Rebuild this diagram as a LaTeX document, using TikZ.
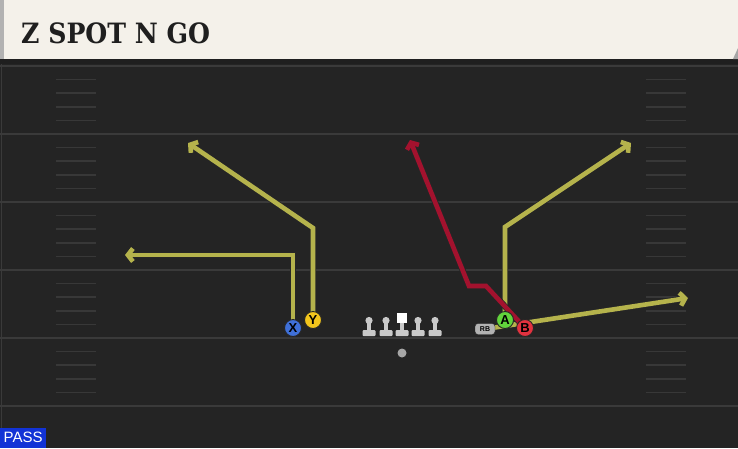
\documentclass[tikz,border=0pt]{standalone}
\usepackage{fontspec}
\usetikzlibrary{arrows.meta,positioning,calc}
\newfontfamily\headfont{DejaVu Serif Condensed}
\newfontfamily\labfont{Liberation Sans}
\definecolor{headcream}{HTML}{F4F1EA}
\definecolor{fieldgray}{HTML}{242424}
\definecolor{yardline}{HTML}{3A3A3A}
\definecolor{hashline}{HTML}{383838}
\definecolor{routeyellow}{HTML}{B5B34C}
\definecolor{routered}{HTML}{A3122E}
\definecolor{xblue}{HTML}{3F70D8}
\definecolor{yyellow}{HTML}{F2C51C}
\definecolor{agreen}{HTML}{62D43C}
\definecolor{bred}{HTML}{E2323F}
\definecolor{linegray}{HTML}{C9C9C9}
\definecolor{passblue}{HTML}{1233D6}
\pgfdeclarelayer{field}
\pgfdeclarelayer{routes}
\pgfsetlayers{field,routes,main}

\begin{document}
\begin{tikzpicture}[x=1pt, y=-1pt,
            every node/.style={inner sep=0pt},
            player/.style={draw=black!85, line width=0.9pt, circle, minimum size=17pt,
                           font=\labfont\bfseries\fontsize{13}{13}\selectfont},
            route/.style={line width=4.6pt, draw=routeyellow, line join=miter,
                          -{Straight Barb[length=5pt,width=13pt]},
                          preaction={draw=black!85, line width=6.2pt}},
            hotroute/.style={route, draw=routered},
            pics/lineman/.style={code={
                \fill[linegray] (0,-0.5) circle (3.6);
                \fill[linegray] (-2.2,0) rectangle (2.2,11);
                \fill[linegray, rounded corners=1pt] (-6.5,9) rectangle (6.5,15);}}]
        \useasboundingbox (0,0) rectangle (738,448);
        \begin{pgfonlayer}{field}
        % field
        \fill[fieldgray] (0,59) rectangle (738,448);
        \fill[black!88] (0,59) rectangle (738,64);
        \draw[yardline, line width=1pt] (1,64) -- (1,448);
        \foreach \yl in {66,134,202,270,338,406}
            \draw[yardline, line width=2pt] (0,\yl) -- (738,\yl);
        \foreach \yl in {66,134,202,270,338}
            \foreach \k in {1,2,3,4} {
                \draw[hashline, line width=1.5pt] (56,\yl+13.6*\k) -- (96,\yl+13.6*\k);
                \draw[hashline, line width=1.5pt] (646,\yl+13.6*\k) -- (686,\yl+13.6*\k);
            }
        % header
        \fill[headcream] (0,0) rectangle (738,59);
        \fill[gray!60] (0,0) rectangle (4,59);
        \fill[gray!70] (738,48) -- (738,59) -- (733,59) -- cycle;
        \end{pgfonlayer}
        \node[anchor=base west, font=\headfont\bfseries\fontsize{28}{28}\selectfont, text=black!88] (title) at (21,43) {Z SPOT N GO};
        \node[anchor=south west, fill=passblue, text=white, minimum width=46pt, minimum height=20pt,
              font=\labfont\fontsize{15}{15}\selectfont] (pass) at (0,448) {PASS};

        % players
        \node[player, fill=xblue] (X) at (293,328) {X};
        \node[player, fill=yyellow] (Y) at (313,320) {Y};
        \node[player, fill=agreen] (A) at (505,320) {A};
        \node[player, fill=bred] (B) at (525,328) {B};
        \node[draw=black!85, fill=gray!60, rounded corners=3pt, minimum width=20pt, minimum height=11pt,
              font=\labfont\bfseries\fontsize{7}{7}\selectfont] (RB) at (485,329) {RB};
        \node[circle, fill=gray!70, minimum size=9pt] (QB) at (402,353) {};

        % line
        \pic (LT) at (369,321) {lineman};
        \pic (LG) at (386,321) {lineman};
        \pic (RG) at (418,321) {lineman};
        \pic (RT) at (435,321) {lineman};
        \fill[linegray] (399.8,322) rectangle (404.2,331);
        \fill[linegray, rounded corners=1pt] (395.5,330) rectangle (408.5,336);
        \node[fill=white, minimum size=9.5pt] (C) at (402,318) {};

        % routes
        \coordinate (Xbrk) at (293,255);
        \coordinate (Xend) at (125,255);
        \coordinate (Ybrk) at (313,228);
        \coordinate (Yend) at (188,143);
        \coordinate (Abrk) at (505,227);
        \coordinate (Aend) at (631,143);
        \coordinate (RBend) at (688,298);
        \coordinate (Bbrk) at (486,286);
        \coordinate (Bturn) at (469,286);
        \coordinate (Bend) at (410,140);
        \begin{pgfonlayer}{routes}
        \draw[route] (X.center) -- (Xbrk) -- (Xend);
        \draw[route] (Y.center) -- (Ybrk) -- (Yend);
        \draw[route] (A.center) -- (Abrk) -- (Aend);
        \draw[route] (RB.center) -- (RBend);
        \draw[hotroute] (B.center) -- (Bbrk) -- (Bturn) -- (Bend);
        \end{pgfonlayer}
\end{tikzpicture}
\end{document}
